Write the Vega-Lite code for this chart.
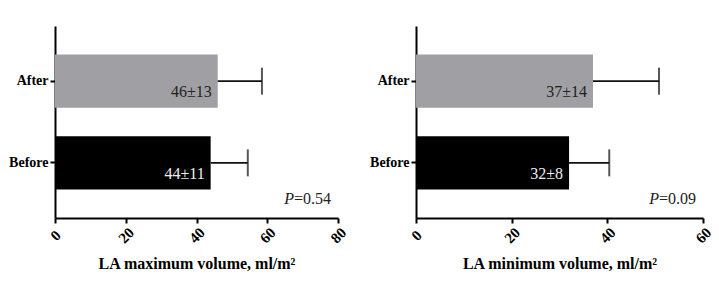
{
  "$schema": "https://vega.github.io/schema/vega-lite/v6.json",
  "padding": {"left": 8, "top": 26, "right": 5, "bottom": 5},
  "background": "white",
  "spacing": 78,
  "bounds": "flush",
  "config": {"view": {"stroke": null}, "font": "Liberation Serif"},
  "hconcat": [
    {
      "width": 283,
      "height": 192,
      "data": {"values": [
        {"group": "After", "mean": 46, "upper": 58.5, "label": "46±13"},
        {"group": "Before", "mean": 44, "upper": 54.5, "label": "44±11"}
      ]},
      "layer": [
        {
          "mark": {"type": "bar"},
          "encoding": {
            "y": {"field": "group", "type": "nominal", "scale": {"domain": ["After", "Before"], "paddingInner": 0.35, "paddingOuter": 0.35},
              "axis": {"title": null, "labelFont": "Liberation Serif", "labelFontWeight": "bold", "labelFontSize": 14, "labelColor": "#000", "tickSize": 5, "tickWidth": 2, "tickColor": "#000", "domainWidth": 2, "domainColor": "#000", "labelPadding": 2}},
            "x": {"field": "mean", "type": "quantitative", "scale": {"domain": [0, 80], "nice": false},
              "axis": {"values": [0, 20, 40, 60, 80], "grid": false, "title": "LA maximum volume, ml/m²", "titleFont": "Liberation Serif", "titleFontWeight": "bold", "titleFontSize": 16, "titleColor": "#000", "titlePadding": 10, "labelFont": "Liberation Serif", "labelFontWeight": "bold", "labelFontSize": 15, "labelColor": "#000", "labelAngle": -45, "labelAlign": "center", "labelBaseline": "middle", "labelPadding": 12, "tickSize": 5, "tickWidth": 2, "tickColor": "#000", "domainWidth": 2, "domainColor": "#000", "labelFlush": false}},
            "color": {"field": "group", "type": "nominal", "scale": {"domain": ["After", "Before"], "range": ["#a0a0a4", "#000000"]}, "legend": null}
          }
        },
        {
          "mark": {"type": "rule", "strokeWidth": 1.6, "color": "#111"},
          "encoding": {
            "y": {"field": "group", "type": "nominal"},
            "x": {"field": "mean", "type": "quantitative"},
            "x2": {"field": "upper"}
          }
        },
        {
          "mark": {"type": "tick", "orient": "vertical", "size": 27, "thickness": 2, "color": "#111"},
          "encoding": {
            "y": {"field": "group", "type": "nominal"},
            "x": {"field": "upper", "type": "quantitative"}
          }
        },
        {
          "mark": {"type": "text", "align": "right", "baseline": "middle", "dx": -6, "dy": 11, "fontSize": 16, "font": "Liberation Serif"},
          "encoding": {
            "y": {"field": "group", "type": "nominal"},
            "x": {"field": "mean", "type": "quantitative"},
            "text": {"field": "label"},
            "color": {"condition": {"test": "datum.group === 'Before'", "value": "#eeeeee"}, "value": "#222222"}
          }
        },
        {
          "data": {"values": [{"group": "Before", "x": 80, "p": "P", "rest": "=0.54"}]},
          "layer": [
            {
              "mark": {"type": "text", "align": "right", "baseline": "middle", "dx": -7, "dy": 36, "fontSize": 16, "font": "Liberation Serif", "color": "#222"},
              "encoding": {"y": {"field": "group", "type": "nominal"}, "x": {"field": "x", "type": "quantitative"}, "text": {"field": "rest"}}
            },
            {
              "mark": {"type": "text", "align": "right", "baseline": "middle", "dx": -44, "dy": 36, "fontSize": 16, "font": "Liberation Serif", "fontStyle": "italic", "color": "#222"},
              "encoding": {"y": {"field": "group", "type": "nominal"}, "x": {"field": "x", "type": "quantitative"}, "text": {"field": "p"}}
            }
          ]
        }
      ]
    },
    {
      "width": 287,
      "height": 192,
      "data": {"values": [
        {"group": "After", "mean": 37, "upper": 50.8, "label": "37±14"},
        {"group": "Before", "mean": 32, "upper": 40.4, "label": "32±8"}
      ]},
      "layer": [
        {
          "mark": {"type": "bar"},
          "encoding": {
            "y": {"field": "group", "type": "nominal", "scale": {"domain": ["After", "Before"], "paddingInner": 0.35, "paddingOuter": 0.35},
              "axis": {"title": null, "labelFont": "Liberation Serif", "labelFontWeight": "bold", "labelFontSize": 14, "labelColor": "#000", "tickSize": 5, "tickWidth": 2, "tickColor": "#000", "domainWidth": 2, "domainColor": "#000", "labelPadding": 2}},
            "x": {"field": "mean", "type": "quantitative", "scale": {"domain": [0, 60], "nice": false},
              "axis": {"values": [0, 20, 40, 60], "grid": false, "title": "LA minimum volume, ml/m²", "titleFont": "Liberation Serif", "titleFontWeight": "bold", "titleFontSize": 16, "titleColor": "#000", "titlePadding": 10, "labelFont": "Liberation Serif", "labelFontWeight": "bold", "labelFontSize": 15, "labelColor": "#000", "labelAngle": -45, "labelAlign": "center", "labelBaseline": "middle", "labelPadding": 12, "tickSize": 5, "tickWidth": 2, "tickColor": "#000", "domainWidth": 2, "domainColor": "#000", "labelFlush": false}},
            "color": {"field": "group", "type": "nominal", "scale": {"domain": ["After", "Before"], "range": ["#a0a0a4", "#000000"]}, "legend": null}
          }
        },
        {
          "mark": {"type": "rule", "strokeWidth": 1.6, "color": "#111"},
          "encoding": {
            "y": {"field": "group", "type": "nominal"},
            "x": {"field": "mean", "type": "quantitative"},
            "x2": {"field": "upper"}
          }
        },
        {
          "mark": {"type": "tick", "orient": "vertical", "size": 27, "thickness": 2, "color": "#111"},
          "encoding": {
            "y": {"field": "group", "type": "nominal"},
            "x": {"field": "upper", "type": "quantitative"}
          }
        },
        {
          "mark": {"type": "text", "align": "right", "baseline": "middle", "dx": -6, "dy": 11, "fontSize": 16, "font": "Liberation Serif"},
          "encoding": {
            "y": {"field": "group", "type": "nominal"},
            "x": {"field": "mean", "type": "quantitative"},
            "text": {"field": "label"},
            "color": {"condition": {"test": "datum.group === 'Before'", "value": "#eeeeee"}, "value": "#222222"}
          }
        },
        {
          "data": {"values": [{"group": "Before", "x": 60, "p": "P", "rest": "=0.09"}]},
          "layer": [
            {
              "mark": {"type": "text", "align": "right", "baseline": "middle", "dx": -7, "dy": 36, "fontSize": 16, "font": "Liberation Serif", "color": "#222"},
              "encoding": {"y": {"field": "group", "type": "nominal"}, "x": {"field": "x", "type": "quantitative"}, "text": {"field": "rest"}}
            },
            {
              "mark": {"type": "text", "align": "right", "baseline": "middle", "dx": -44, "dy": 36, "fontSize": 16, "font": "Liberation Serif", "fontStyle": "italic", "color": "#222"},
              "encoding": {"y": {"field": "group", "type": "nominal"}, "x": {"field": "x", "type": "quantitative"}, "text": {"field": "p"}}
            }
          ]
        }
      ]
    }
  ]
}
